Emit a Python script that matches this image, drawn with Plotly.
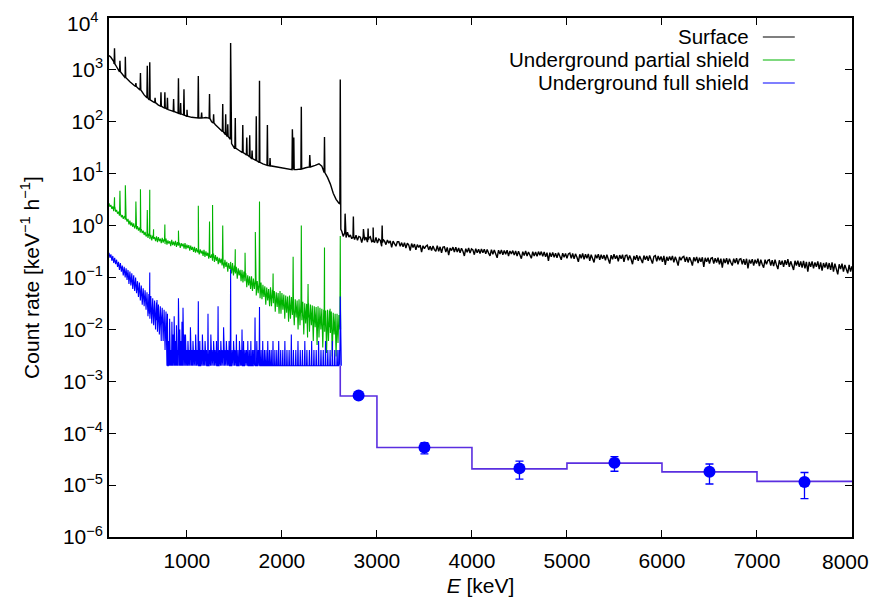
import plotly.graph_objects as go

# ---------------- data ----------------
# Surface spectrum: continuum below / just after the 2614 keV line (E [keV], rate)
surf_low_E = [180, 200, 230, 260, 300, 350, 400, 450, 500, 550, 600, 650, 700, 750, 800,
              850, 900, 950, 1000, 1050, 1100, 1150, 1200, 1230, 1260, 1300, 1350, 1400, 1440, 1470,
              1500, 1550, 1600, 1650, 1700, 1750, 1800, 1850, 1900, 1950, 2000, 2050, 2100, 2150, 2200,
              2250, 2300, 2350, 2390, 2420, 2450, 2480, 2510, 2540, 2570, 2600, 2610, 2620]
surf_low_rate = [1900, 1750, 1450, 1150, 920, 720, 590, 500, 420, 330, 270, 240, 210, 190, 172,
                 160, 148, 138, 128, 122, 120, 118, 121, 118, 100, 88, 72, 58, 50, 38,
                 31, 28, 25, 22, 19, 17, 15.5, 14.5, 14, 13.5, 13, 12.5, 12, 12, 12.3,
                 13, 13.5, 14.5, 15.5, 14, 11, 8.5, 6.3, 4.2, 3.2, 2.7, 2.6, 0.85]

# Surface continuum above 2614 keV, 15 keV channels from 2630 keV, rate in 1e-3 /keV/h
surf_high_start, surf_high_step = 2630, 15
surf_high_milli = [
    780, 620, 720, 590, 750, 600, 660, 560, 700, 540, 650, 520, 620, 600, 470, 610, 520, 600, 480, 580,
    610, 490, 570, 470, 590, 460, 550, 520, 400, 540, 500, 430, 530, 460, 510, 380, 500, 450, 400, 490,
    490, 400, 470, 390, 470, 370, 460, 420, 330, 450, 380, 440, 340, 430, 380, 420, 310, 410, 360, 400,
    420, 340, 400, 330, 405, 345, 320, 410, 320, 390, 300, 385, 390, 310, 380, 270, 370, 330, 385, 310,
    385, 310, 370, 300, 365, 320, 260, 360, 305, 370, 295, 355, 340, 275, 360, 300, 350, 290, 355, 300,
    350, 285, 345, 295, 260, 345, 280, 340, 290, 240, 335, 285, 340, 275, 330, 280, 335, 260, 325, 285,
    330, 270, 325, 260, 320, 280, 230, 315, 265, 325, 260, 310, 275, 235, 315, 260, 310, 255, 315, 270,
    315, 255, 310, 250, 300, 210, 300, 250, 305, 245, 295, 240, 300, 255, 220, 295, 245, 290, 235, 285,
    295, 235, 290, 230, 285, 245, 200, 280, 235, 290, 225, 280, 235, 285, 210, 275, 240, 195, 275, 235,
    280, 220, 275, 230, 270, 215, 275, 235, 185, 270, 225, 280, 230, 265, 205, 270, 230, 275, 200, 265,
    270, 215, 265, 225, 180, 260, 220, 270, 210, 260, 225, 190, 265, 220, 260, 210, 265, 225, 185, 255,
    265, 205, 260, 215, 255, 200, 260, 175, 250, 210, 255, 215, 260, 195, 250, 210, 170, 250, 215, 245,
    255, 200, 250, 195, 245, 210, 170, 245, 205, 250, 190, 240, 200, 245, 160, 240, 200, 240, 185, 235,
    240, 185, 235, 195, 240, 180, 230, 155, 230, 190, 235, 180, 230, 195, 170, 230, 190, 235, 180, 225,
    230, 180, 225, 175, 230, 150, 220, 185, 225, 170, 220, 185, 230, 165, 220, 180, 155, 220, 180, 215,
    220, 170, 215, 165, 220, 175, 145, 215, 175, 210, 160, 215, 175, 225, 160, 205, 170, 140, 210, 170,
    210, 160, 205, 155, 210, 150, 200, 130, 200, 160, 205, 150, 195, 160, 205, 145, 195, 135, 190, 155,
    195, 145, 190, 140, 195, 130, 185, 150, 115, 180, 145, 185, 130, 175, 140, 120, 175, 130, 165]

# Surface gamma lines: (E, continuum under the line, line top)
surf_peaks = [(238, 1300, 2600), (295, 920, 1500), (352, 715, 1800), (463, 480, 560),
              (511, 410, 870), (583, 290, 1200), (609, 265, 1400), (665, 235, 290),
              (727, 200, 370), (768, 185, 370), (795, 175, 290), (860, 158, 275),
              (911, 146, 690), (934, 142, 230), (969, 135, 425), (1001, 128, 170),
              (1120, 119, 760), (1155, 118, 150), (1238, 117, 345), (1281, 95, 140),
              (1377, 65, 220), (1408, 57, 140), (1430, 52, 90), (1460, 46, 3300),
              (1509, 31, 118), (1588, 25.5, 87), (1630, 23, 50), (1661, 21, 55),
              (1686, 19.5, 28), (1730, 18, 128), (1764, 16.5, 620), (1847, 14.5, 87),
              (1875, 14.2, 20), (2110, 12, 72), (2125, 12, 50), (2204, 12.3, 195),
              (2293, 13.5, 23), (2448, 10.5, 51), (2614, 2.6, 650),
              (2665, 0.68, 1.7), (2752, 0.6, 1.5), (2858, 0.55, 0.86), (2907, 0.54, 0.88),
              (2960, 0.5, 0.92), (3055, 0.47, 1.0)]

# Underground, partial shield: 10 keV channels from 180 keV
green_start, green_step = 180, 10
green_rate = [
    2.7, 2.3, 2.5, 2.1, 2.35, 1.9, 2.2, 1.85, 2.0, 1.7,
    1.85, 1.55, 1.7, 1.45, 1.6, 1.35, 1.5, 1.3, 1.4, 1.2,
    1.35, 1.05, 1.25, 1.0, 1.15, 0.95, 1.1, 0.88, 1.0, 0.85,
    0.98, 0.8, 0.92, 0.74, 0.85, 0.72, 0.8, 0.66, 0.76, 0.62,
    0.74, 0.58, 0.7, 0.55, 0.66, 0.52, 0.64, 0.55, 0.6, 0.5,
    0.62, 0.48, 0.6, 0.5, 0.56, 0.46, 0.58, 0.47, 0.55, 0.44,
    0.56, 0.43, 0.52, 0.45, 0.5, 0.4, 0.53, 0.42, 0.49, 0.41,
    0.51, 0.39, 0.48, 0.41, 0.47, 0.37, 0.46, 0.4, 0.45, 0.36,
    0.46, 0.35, 0.43, 0.37, 0.42, 0.33, 0.41, 0.34, 0.39, 0.31,
    0.39, 0.3, 0.37, 0.31, 0.36, 0.28, 0.35, 0.29, 0.33, 0.26,
    0.34, 0.25, 0.32, 0.26, 0.3, 0.23, 0.29, 0.24, 0.28, 0.21,
    0.29, 0.2, 0.27, 0.21, 0.25, 0.18, 0.24, 0.19, 0.23, 0.17,
    0.24, 0.15, 0.22, 0.16, 0.2, 0.13, 0.19, 0.15, 0.18, 0.12,
    0.19, 0.11, 0.17, 0.12, 0.16, 0.095, 0.15, 0.11, 0.14, 0.085,
    0.14, 0.08, 0.13, 0.085, 0.12, 0.065, 0.11, 0.07, 0.105, 0.06,
    0.105, 0.055, 0.095, 0.06, 0.09, 0.045, 0.085, 0.05, 0.08, 0.04,
    0.08, 0.038, 0.072, 0.042, 0.068, 0.03, 0.064, 0.036, 0.06, 0.028,
    0.065, 0.028, 0.058, 0.032, 0.055, 0.022, 0.052, 0.027, 0.05, 0.02,
    0.055, 0.02, 0.05, 0.024, 0.047, 0.016, 0.045, 0.021, 0.043, 0.014,
    0.045, 0.016, 0.042, 0.019, 0.04, 0.012, 0.038, 0.017, 0.036, 0.01,
    0.038, 0.012, 0.036, 0.015, 0.034, 0.008, 0.032, 0.013, 0.031, 0.007,
    0.032, 0.009, 0.03, 0.012, 0.029, 0.006, 0.028, 0.011, 0.027, 0.005,
    0.028, 0.007, 0.026, 0.01, 0.025, 0.0045, 0.024, 0.009, 0.023, 0.0035,
    0.024, 0.006, 0.023, 0.0085, 0.022, 0.003, 0.021, 0.008, 0.02, 0.003,
    0.02, 0.0055, 0.019]
green_peaks = [(238, 2.3, 3.5), (295, 1.75, 4.7), (352, 1.45, 6.0), (463, 0.95, 2.9),
               (511, 0.82, 5.0), (583, 0.66, 2.0), (609, 0.63, 4.9), (649, 0.57, 0.85),
               (768, 0.5, 1.05), (911, 0.43, 0.8), (1120, 0.31, 2.4), (1238, 0.26, 1.2),
               (1270, 0.24, 2.5), (1377, 0.2, 1.0), (1460, 0.15, 0.2), (1509, 0.13, 0.35),
               (1612, 0.1, 0.3), (1720, 0.07, 0.75), (1764, 0.064, 2.9), (1907, 0.04, 0.12),
               (2118, 0.025, 0.25), (2204, 0.021, 1.0), (2275, 0.017, 0.075),
               (2448, 0.012, 0.38), (2507, 0.011, 0.025), (2614, 0.01, 0.63)]

# Underground, full shield: 10 keV channels from 180 to 780 keV
blue_start, blue_step = 180, 10
blue_rate = [
    0.3, 0.24, 0.28, 0.21, 0.26, 0.19, 0.24, 0.18, 0.22, 0.16,
    0.2, 0.14, 0.19, 0.13, 0.17, 0.11, 0.16, 0.1, 0.15, 0.09,
    0.14, 0.075, 0.13, 0.07, 0.12, 0.06, 0.11, 0.055, 0.1, 0.05,
    0.085, 0.042, 0.08, 0.036, 0.07, 0.03, 0.062, 0.028, 0.057, 0.024,
    0.052, 0.018, 0.048, 0.016, 0.044, 0.013, 0.04, 0.012, 0.036, 0.01,
    0.033, 0.009, 0.03, 0.008, 0.028, 0.006, 0.026, 0.006, 0.024, 0.004,
    0.022]
blue_floor = 0.002          # one-count level
blue_floor_E = [790, 2625]
# few-count channels above 790 keV: (E, rate)
blue_spike_E = [795, 807, 818, 830, 842, 853, 866, 878, 890, 902, 925, 937, 948, 972,
                985, 998, 1011, 1024, 1037, 1051, 1064, 1078, 1092, 1106,
                1136, 1149, 1163, 1177, 1191, 1206,
                1238, 1252, 1266, 1281, 1296, 1311,
                1343, 1357, 1371, 1386, 1401, 1415, 1430, 1444,
                1476, 1491, 1506, 1521, 1537, 1553, 1567,
                1596, 1611, 1626, 1641, 1657, 1673, 1689, 1703,
                1736, 1750,
                1781, 1798, 1816, 1833, 1851, 1869, 1887, 1906,
                1926, 1946, 1966, 1987, 2009, 2031, 2053, 2076, 2099, 2121,
                2146, 2169, 2193, 2216, 2241, 2263, 2289, 2313, 2337, 2361,
                2386, 2411, 2435, 2459, 2483, 2507, 2531, 2556, 2581, 2600]
blue_spike_rate = [0.02, 0.006, 0.016, 0.004, 0.014, 0.008, 0.018, 0.006, 0.012, 0.004,
                   0.01, 0.006, 0.014, 0.008,
                   0.008, 0.004, 0.006, 0.004, 0.011, 0.004, 0.006, 0.004, 0.008, 0.004,
                   0.006, 0.004, 0.008, 0.004, 0.006, 0.004,
                   0.004, 0.008, 0.004, 0.006, 0.004, 0.006,
                   0.004, 0.006, 0.004, 0.011, 0.004, 0.006, 0.004, 0.006,
                   0.004, 0.006, 0.004, 0.008, 0.004, 0.006, 0.004,
                   0.006, 0.004, 0.004, 0.006, 0.004, 0.006, 0.004, 0.004,
                   0.006, 0.004,
                   0.004, 0.006, 0.004, 0.004, 0.006, 0.004, 0.004, 0.006,
                   0.004, 0.004, 0.006, 0.004, 0.004, 0.006, 0.004, 0.004, 0.008, 0.004,
                   0.004, 0.006, 0.004, 0.004, 0.006, 0.004, 0.004, 0.006, 0.004, 0.004,
                   0.006, 0.004, 0.004, 0.006, 0.004, 0.004, 0.006, 0.004, 0.004, 0.004]
blue_peaks = [(609, 0.02, 0.125), (685, 0.015, 0.037), (727, 0.012, 0.025), (911, 0.002, 0.04),
              (959, 0.002, 0.026), (1120, 0.002, 0.035), (1222, 0.002, 0.02), (1328, 0.002, 0.028),
              (1460, 0.002, 0.145), (1580, 0.002, 0.01), (1717, 0.002, 0.017), (1764, 0.002, 0.027),
              (2614, 0.002, 0.043)]

# Rebinned full-shield rate above 2614 keV
hist_edges = [2614, 3000, 4000, 5000, 6000, 7000, 8000]
hist_rate = [5.2e-4, 5.3e-5, 2.05e-5, 2.65e-5, 1.8e-5, 1.18e-5]
pts_E = [2807, 3500, 4500, 5500, 6500, 7500]
pts_rate = [5.3e-4, 5.3e-5, 2.1e-5, 2.7e-5, 1.8e-5, 1.15e-5]
pts_err = [0.5e-4, 1.3e-5, 0.8e-5, 0.85e-5, 0.75e-5, 0.6e-5]

x_ticks = [1000, 2000, 3000, 4000, 5000, 6000, 7000, 8000]
y_exps = [-6, -5, -4, -3, -2, -1, 0, 1, 2, 3, 4]
series_names = ["Surface", "Underground partial shield", "Underground full shield"]
series_colors = ["#000000", "#00b400", "#0000ff"]

FONT = "Liberation Sans, Arial, sans-serif"
FS = 21
PLOT_W, PLOT_H = 743, 519          # plot area in px (margins below)


def channels(start, step, rates):
    return [(start + step * i, r) for i, r in enumerate(rates)]


def spectrum(pairs, peaks, half=4):
    pts = list(pairs)
    for e, base, top in peaks:
        pts += [(e - half, base), (e, top), (e + half, base)]
    pts.sort(key=lambda p: p[0])
    return [p[0] for p in pts], [p[1] for p in pts]


def sup(e):
    return "10<sup>%s</sup>" % str(e).replace("-", "−")


surf_pairs = list(zip(surf_low_E, surf_low_rate)) + \
    [(e, v / 1000.0) for e, v in channels(surf_high_start, surf_high_step, surf_high_milli)]
sx, sy = spectrum(surf_pairs, surf_peaks)
gx, gy = spectrum(channels(green_start, green_step, green_rate), green_peaks)

# full shield: low-energy channels, then few-count spikes standing on the one-count floor
b_pairs = channels(blue_start, blue_step, blue_rate) + [(e, blue_floor) for e in blue_floor_E]
b_spikes = [(e, blue_floor, r) for e, r in zip(blue_spike_E, blue_spike_rate)]
bx, by = spectrum(b_pairs, blue_peaks + b_spikes)

fig = go.Figure()
fig.add_trace(go.Scatter(x=sx, y=sy, mode="lines", line=dict(color=series_colors[0], width=1.4),
                         name=series_names[0]))
fig.add_trace(go.Scatter(x=gx, y=gy, mode="lines", line=dict(color=series_colors[1], width=1.1),
                         name=series_names[1]))
fig.add_trace(go.Scatter(x=bx, y=by, mode="lines", line=dict(color=series_colors[2], width=1.1),
                         name=series_names[2]))
fig.add_trace(go.Scatter(x=[hist_edges[0]] + hist_edges,
                         y=[blue_floor] + hist_rate + [hist_rate[-1]],
                         mode="lines", line=dict(color="#5a2ee0", width=1.6, shape="hv"),
                         showlegend=False))
fig.add_trace(go.Scatter(x=pts_E, y=pts_rate, mode="markers",
                         marker=dict(color="#0000ff", size=12),
                         error_y=dict(type="data", array=pts_err, color="#0000ff",
                                      thickness=1.3, width=4),
                         showlegend=False))

# legend drawn gnuplot style: right-aligned text, line sample on the right
leg_y = [0.9634, 0.9191, 0.8748]
for name, col, yy in zip(series_names, series_colors, leg_y):
    fig.add_annotation(x=0.8627, y=yy, xref="paper", yref="paper", text=name, showarrow=False,
                       xanchor="right", yanchor="middle", borderpad=0,
                       font=dict(family=FONT, size=20.5, color="black"))
    fig.add_shape(type="line", xref="paper", yref="paper", x0=0.880, x1=0.923, y0=yy, y1=yy,
                  line=dict(color=col, width=1.2))

# edge tick labels kept inside the page: "10^4" at the top, "8000" at the right
fig.add_annotation(x=-9.0 / PLOT_W, y=1 + 10.0 / PLOT_H, xref="paper", yref="paper",
                   text=sup(y_exps[-1]), showarrow=False, xanchor="right", yanchor="top",
                   borderpad=0, font=dict(family=FONT, size=FS, color="black"))
fig.add_annotation(x=1 + 18.0 / PLOT_W, y=-24.0 / PLOT_H, xref="paper", yref="paper",
                   text=str(x_ticks[-1]), showarrow=False, xanchor="right", yanchor="middle",
                   borderpad=0, font=dict(family=FONT, size=FS, color="black"))

fig.update_layout(
    width=864, height=589,
    margin=dict(l=101, r=20, t=10, b=60, autoexpand=False),
    plot_bgcolor="white", paper_bgcolor="white",
    showlegend=False,
    font=dict(family=FONT, size=FS, color="black"),
)
fig.update_xaxes(range=[180, 8000], tickvals=x_ticks,
                 ticktext=[str(v) for v in x_ticks[:-1]] + [""],
                 tickfont=dict(family=FONT, size=FS, color="black"),
                 ticks="inside", ticklen=7, tickcolor="black", tickwidth=1,
                 ticklabelstandoff=4, automargin=False,
                 showline=True, linecolor="black", linewidth=1.5, mirror="ticks",
                 showgrid=False, zeroline=False,
                 title=dict(text="<i>E</i> [keV]", standoff=12,
                            font=dict(family=FONT, size=FS, color="black")))
fig.update_yaxes(type="log", range=[-6, 4], tickvals=[10.0 ** e for e in y_exps],
                 ticktext=[sup(e) for e in y_exps[:-1]] + [""],
                 tickfont=dict(family=FONT, size=FS, color="black"),
                 automargin=False,
                 ticks="inside", ticklen=7, tickcolor="black", tickwidth=1,
                 showline=True, linecolor="black", linewidth=1.5, mirror="ticks",
                 showgrid=False, zeroline=False,
                 title=dict(text="Count rate [keV<sup>−1</sup> h<sup>−1</sup>]", standoff=18,
                            font=dict(family=FONT, size=FS, color="black")))

fig.write_html("out.html")
